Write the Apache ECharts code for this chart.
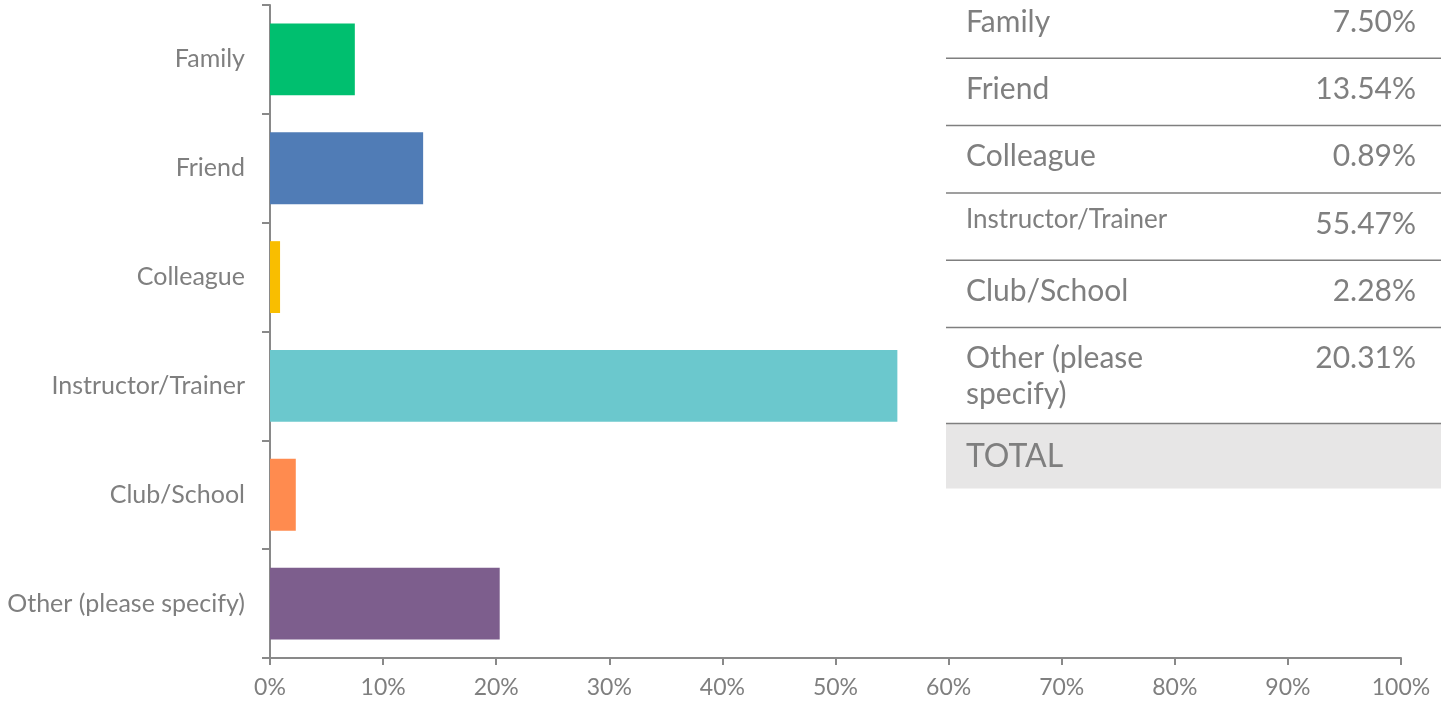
<!DOCTYPE html>
<html><head><meta charset="utf-8">
<script src="https://cdn.jsdelivr.net/npm/echarts@6/dist/echarts.min.js"></script>
<style>html,body{margin:0;padding:0;background:#fff;overflow:hidden}#c{width:1441px;height:705px}</style>
</head><body><div id="c"></div>
<script>
// ---- data ----
const categories = ['Family', 'Friend', 'Colleague', 'Instructor/Trainer', 'Club/School', 'Other (please specify)'];
const values = [7.50, 13.54, 0.89, 55.47, 2.28, 20.31];
const barColors = ['#00BF6F', '#507CB6', '#F9BE00', '#6BC8CD', '#FF8B4F', '#7D5E8D'];
const xMin = 0, xMax = 100, xStep = 10;
const totalLabel = 'TOTAL';

// ---- style ----
const FONT = 'Lato';
const TXT = '#7f7f7f';
const AX = '#898989';

// ---- table (overlay) ----
const tableLeft = 946, tableRight = 1441;
const rowH = 67.3, tallRowH = 96, tableTop = -9;
const tableFont = [30, 30, 30, 26, 30, 30];
const labelTopOffset = [13, 13, 13, 9, 13, 13];
const graphic = [];
let y = tableTop;
categories.forEach((c, i) => {
  const h = (i === categories.length - 1) ? tallRowH : rowH;
  graphic.push({type: 'text', left: tableLeft + 20, top: y + labelTopOffset[i],
    style: {text: c, font: tableFont[i] + 'px ' + FONT, fill: TXT, width: 235, overflow: 'break', lineHeight: 36}});
  graphic.push({type: 'text', right: 1441 - 1416, top: y + 34 - 18,
    style: {text: values[i].toFixed(2) + '%', font: '30px ' + FONT, fill: TXT, align: 'right'}});
  y += h;
  graphic.push({type: 'line', shape: {x1: tableLeft, y1: y, x2: tableRight, y2: y},
    style: {stroke: '#7f7f7f', lineWidth: 1.5}});
});
graphic.unshift({type: 'rect', shape: {x: tableLeft, y: y, width: tableRight - tableLeft, height: 65},
  style: {fill: '#e7e6e6'}});
graphic.push({type: 'text', left: tableLeft + 20, top: y + 36 - 19,
  style: {text: totalLabel, font: '32px ' + FONT, fill: TXT}});

const chart = echarts.init(document.getElementById('c'), null, {renderer: 'canvas'});
chart.setOption({
  animation: false,
  grid: {left: 270, right: 40, top: 5, bottom: 47, containLabel: false},
  xAxis: {
    type: 'value', min: xMin, max: xMax, interval: xStep,
    axisLine: {show: true, lineStyle: {color: AX, width: 2}},
    axisTick: {show: true, length: 7, lineStyle: {color: AX, width: 2}},
    splitLine: {show: false},
    axisLabel: {formatter: '{value}%', color: TXT, fontFamily: FONT, fontSize: 23, margin: 18}
  },
  yAxis: {
    type: 'category', data: categories, inverse: true,
    axisLine: {show: true, lineStyle: {color: AX, width: 2}},
    axisTick: {show: true, length: 8, lineStyle: {color: AX, width: 2}},
    axisLabel: {color: TXT, fontFamily: FONT, fontSize: 25, margin: 25}
  },
  series: [{
    type: 'bar', barCategoryGap: '34%',
    data: values.map((v, i) => ({value: v, itemStyle: {color: barColors[i]}}))
  }],
  graphic: graphic
});
</script></body></html>
